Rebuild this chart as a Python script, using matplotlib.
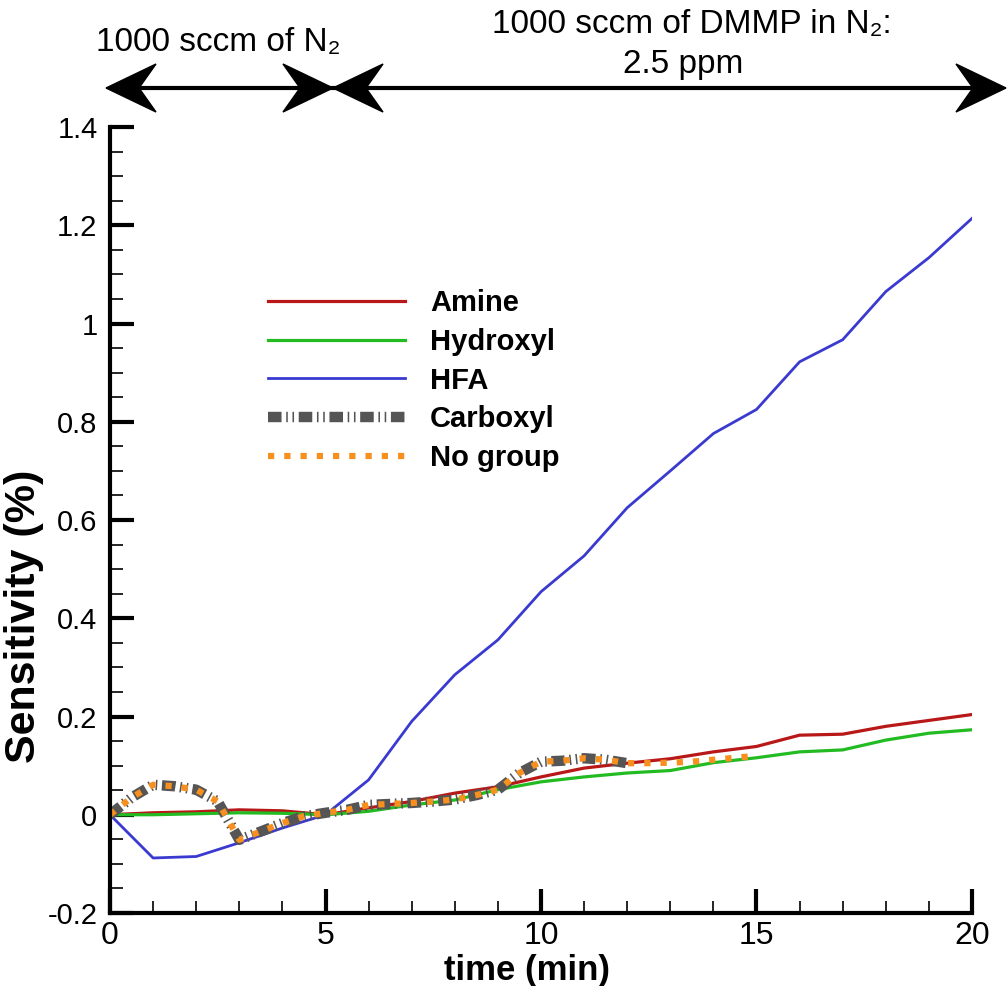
import matplotlib
matplotlib.use('Agg')
import matplotlib.pyplot as plt
from matplotlib.ticker import MultipleLocator, FuncFormatter
from matplotlib.patches import Polygon
from matplotlib.lines import Line2D

# ── data ─────────────────────────────────────────────────────────────────────
t_min = list(range(0, 21))
amine = [0.0, 0.004, 0.006, 0.010, 0.008, 0.0, 0.014, 0.027, 0.044, 0.057, 0.077,
         0.095, 0.105, 0.114, 0.128, 0.139, 0.162, 0.164, 0.180, 0.192, 0.204]
hydroxyl = [0.0, 0.0, 0.002, 0.004, 0.003, 0.0, 0.007, 0.020, 0.030, 0.051, 0.067,
            0.077, 0.085, 0.090, 0.106, 0.116, 0.128, 0.132, 0.152, 0.166, 0.173]
hfa = [0.0, -0.088, -0.085, -0.057, -0.027, 0.0, 0.071, 0.190, 0.285, 0.356, 0.454,
       0.527, 0.625, 0.700, 0.776, 0.825, 0.922, 0.967, 1.065, 1.134, 1.214]

t_carboxyl = [0, 0.5, 1, 1.5, 2, 2.5, 3, 3.5, 4, 4.5, 5, 5.5, 6, 6.5, 7, 7.5, 8,
              8.5, 9, 9.5, 10, 10.5, 11, 11.5, 12]
carboxyl = [0.0, 0.035, 0.061, 0.058, 0.051, 0.027, -0.051, -0.034, -0.017, -0.003,
            0.004, 0.010, 0.020, 0.022, 0.024, 0.027, 0.031, 0.040, 0.051, 0.085,
            0.108, 0.110, 0.115, 0.112, 0.105]

t_nogroup = t_carboxyl + [12.5, 13, 13.5, 14, 14.5, 15]
nogroup = carboxyl + [0.105, 0.106, 0.108, 0.112, 0.116, 0.120]

W, H = 1008, 986
SANS = ['Liberation Sans', 'DejaVu Sans']

fig = plt.figure(figsize=(W / 100, H / 100), dpi=100)
ax = fig.add_axes([110 / W, 1 - 913 / H, (972 - 110) / W, (913 - 127) / H])

ax.plot(t_min, amine, color='#b81818', lw=2.3, label='Amine')
ax.plot(t_min, hydroxyl, color='#22bb22', lw=2.3, label='Hydroxyl')
ax.plot(t_min, hfa, color='#3a3ad0', lw=2.0, label='HFA')
ax.plot(t_carboxyl, carboxyl, color='#555555', lw=7.5,
        dashes=(1.3, 0.45, 0.15, 0.45, 0.15, 0.45), dash_capstyle='butt',
        label='Carboxyl')
ax.plot(t_nogroup, nogroup, color='#f7901e', lw=4.5, dashes=(1, 1.6),
        dash_capstyle='butt', label='No group')

ax.set_xlim(0, 20)
ax.set_ylim(-0.2, 1.4)
for s in ('top', 'right'):
    ax.spines[s].set_visible(False)
for s in ('left', 'bottom'):
    ax.spines[s].set_linewidth(3)

ax.xaxis.set_major_locator(MultipleLocator(5))
ax.xaxis.set_minor_locator(MultipleLocator(1))
ax.yaxis.set_major_locator(MultipleLocator(0.2))
ax.yaxis.set_minor_locator(MultipleLocator(0.05))
ax.tick_params(which='major', direction='in', length=17, width=3)
ax.tick_params(which='minor', direction='in', length=9, width=1.2)
ax.tick_params(axis='y', which='major', labelsize=21, pad=9, labelfontfamily='Liberation Sans')
ax.tick_params(axis='x', which='major', labelsize=23, pad=6, labelfontfamily='Liberation Sans')
ax.yaxis.set_major_formatter(FuncFormatter(
    lambda v, p: '0' if abs(v) < 1e-9 else f'{v:.1f}'.rstrip('0').rstrip('.')))

ax.set_xlabel('time (min)', fontsize=25, fontweight='bold', family=SANS)
ax.xaxis.set_label_coords((527 - 110) / 862, -0.052)
ax.set_ylabel('Sensitivity (%)', fontsize=31, fontweight='bold', family=SANS)
ax.yaxis.set_label_coords(-0.077, (913 - 616) / 786)

ax.legend(loc='upper left', bbox_to_anchor=(268 / W, 1 - 289 / H),
          bbox_transform=fig.transFigure, frameon=False,
          prop={'weight': 'bold', 'size': 21, 'family': SANS},
          handlelength=4.7, handletextpad=0.86, labelspacing=0.37,
          borderpad=0, borderaxespad=0)

# ── top annotation arrows ─────────────────────────────────────────────────────
def fx(x):
    return x / W


def fy(y):
    return 1 - y / H


ARROW_Y = 88
fig.add_artist(Line2D([fx(120), fx(990)], [fy(ARROW_Y), fy(ARROW_Y)],
                      color='black', lw=3, transform=fig.transFigure))


def head(tip, d):
    pts = [(tip, ARROW_Y), (tip - d * 50, ARROW_Y - 24),
           (tip - d * 33, ARROW_Y), (tip - d * 50, ARROW_Y + 24)]
    fig.add_artist(Polygon([(fx(a), fy(b)) for a, b in pts], closed=True,
                           color='black', transform=fig.transFigure))


head(106, -1)
head(333, 1)
head(333, -1)
head(1006, 1)

fig.text(fx(218), fy(42), '1000 sccm of N₂', ha='center', va='center',
         fontsize=24, family=SANS)
fig.text(fx(692), fy(25), '1000 sccm of DMMP in N₂:', ha='center', va='center',
         fontsize=24, family=SANS)
fig.text(fx(683), fy(64), '2.5 ppm', ha='center', va='center',
         fontsize=24, family=SANS)

fig.savefig('out.png', dpi=100)
